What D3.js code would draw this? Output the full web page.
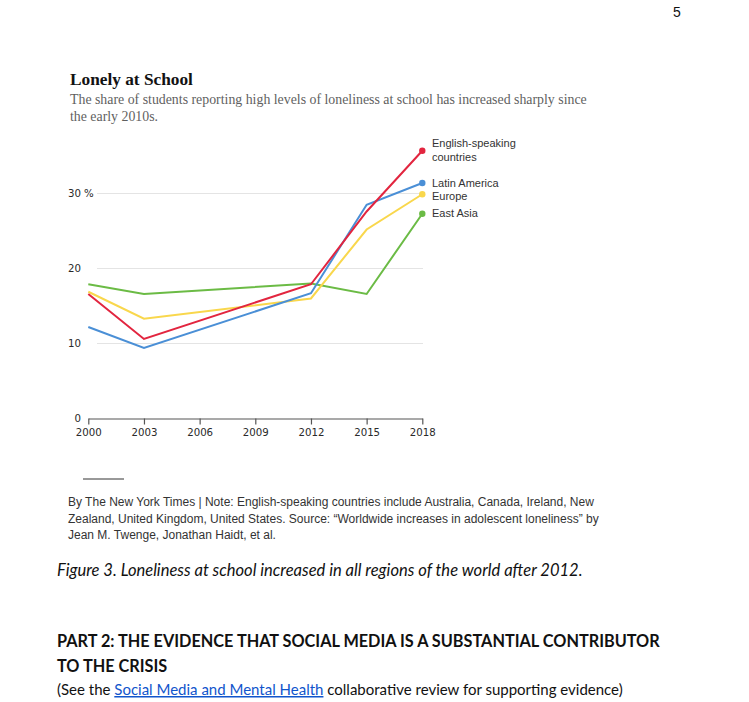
<!DOCTYPE html>
<html>
<head>
<meta charset="utf-8">
<script src="https://cdn.jsdelivr.net/npm/d3@7/dist/d3.min.js"></script>
<style>
  html, body { margin: 0; padding: 0; background: #fff; }
  svg { display: block; }
</style>
</head>
<body>
<svg id="chart" width="749" height="702"></svg>
<script>
// ---------------- DATA ----------------
const years = [2000, 2003, 2012, 2015, 2018];
const seriesNames = ["East Asia", "Europe", "Latin America", "English-speaking countries"];
const eastAsia = [17.9, 16.6, 18.0, 16.6, 27.3];
const europe = [16.9, 13.3, 16.0, 25.2, 29.9];
const latinAmerica = [12.2, 9.4, 16.7, 28.5, 31.4];
const englishSpeaking = [16.6, 10.6, 17.9, 27.6, 35.7];
const xTickValues = [2000, 2003, 2006, 2009, 2012, 2015, 2018];
const yTickValues = [0, 10, 20, 30];

const title = "Lonely at School";
const subtitleLines = [
  "The share of students reporting high levels of loneliness at school has increased sharply since",
  "the early 2010s."
];
const footerLines = [
  "By The New York Times | Note: English-speaking countries include Australia, Canada, Ireland, New",
  "Zealand, United Kingdom, United States. Source: \u201cWorldwide increases in adolescent loneliness\u201d by",
  "Jean M. Twenge, Jonathan Haidt, et al."
];
const captionText = "Figure 3. Loneliness at school increased in all regions of the world after 2012.";
const headingLines = [
  "PART 2: THE EVIDENCE THAT SOCIAL MEDIA IS A SUBSTANTIAL CONTRIBUTOR",
  "TO THE CRISIS"
];
const seeBefore = "(See the ";
const seeLink = "Social Media and Mental Health";
const seeAfter = " collaborative review for supporting evidence)";
const pageNumber = "5";

// ---------------- STYLE / LAYOUT ----------------
const colors = {
  "East Asia": "#6bbb45",
  "Europe": "#f9d74c",
  "Latin America": "#4a8fd6",
  "English-speaking countries": "#e2253f"
};
const labelLines = {
  "East Asia": ["East Asia"],
  "Europe": ["Europe"],
  "Latin America": ["Latin America"],
  "English-speaking countries": ["English-speaking", "countries"]
};
const labelShift = {
  "East Asia": 0,
  "Europe": 2.5,
  "Latin America": 0,
  "English-speaking countries": -7
};

const valuesByName = {
  "East Asia": eastAsia,
  "Europe": europe,
  "Latin America": latinAmerica,
  "English-speaking countries": englishSpeaking
};

const svg = d3.select("#chart");

const x = d3.scaleLinear().domain([2000, 2018]).range([88.3, 422.3]);
const y = d3.scaleLinear().domain([0, 30]).range([418.5, 193.5]);

const tickFont = "'DejaVu Sans', Verdana, sans-serif";

// helper: fit text to a target width by adjusting font-size
function fit(sel, target) {
  const node = sel.node();
  const w = node.getComputedTextLength();
  const fs = parseFloat(sel.attr("font-size"));
  if (w > 0) sel.attr("font-size", (fs * target / w).toFixed(2));
  return sel;
}

// page number
svg.append("text").attr("x", 673).attr("y", 17)
  .attr("font-family", "Liberation Sans, Arial, sans-serif")
  .attr("font-size", 14).attr("fill", "#111").text(pageNumber);

// title
fit(svg.append("text").attr("x", 70).attr("y", 85)
  .attr("font-family", "Liberation Serif, 'DejaVu Serif', serif")
  .attr("font-weight", "bold").attr("font-size", 18).attr("fill", "#121212")
  .text(title), 123);

// subtitle
let subSize = null;
subtitleLines.forEach((t, i) => {
  const s = svg.append("text").attr("x", 70).attr("y", 104 + i * 16.5)
    .attr("font-family", "Liberation Serif, 'DejaVu Serif', serif")
    .attr("font-size", 12.5).attr("fill", "#5f5f5f").text(t);
  if (i === 0) { fit(s, 517); subSize = s.attr("font-size"); }
  else s.attr("font-size", subSize);
});

// gridlines
const grid = svg.append("g");
grid.selectAll("line").data(yTickValues.filter(d => d > 0)).join("line")
  .attr("x1", 97).attr("x2", 423)
  .attr("y1", d => y(d)).attr("y2", d => y(d))
  .attr("stroke", "#e4e4e4").attr("stroke-width", 1);

// y labels
const yLab = svg.append("g")
  .attr("font-family", tickFont)
  .attr("font-size", 10.2).attr("fill", "#2a2a2a");
yLab.selectAll("text").data(yTickValues).join("text")
  .attr("x", 81).attr("y", d => y(d) + 3.8)
  .attr("text-anchor", "end").text(d => d3.format("d")(d));
yLab.append("text").attr("x", 84).attr("y", y(d3.max(yTickValues)) + 3.8).text("%");

// x axis
const xAxis = d3.axisBottom(x).tickValues(xTickValues).tickFormat(d3.format("d"))
  .tickSize(6).tickSizeOuter(0).tickPadding(4);
const gx = svg.append("g").attr("transform", `translate(0,${y(0)})`).call(xAxis)
  .attr("font-family", tickFont).attr("font-size", 10.2);
gx.select(".domain").attr("stroke", "#555").attr("stroke-width", 1.2);
gx.selectAll(".tick line").attr("stroke", "#555").attr("stroke-width", 1.2);
gx.selectAll(".tick text").attr("font-family", tickFont)
  .attr("font-size", 10.2).attr("fill", "#2a2a2a");

// lines
const line = d3.line().x((d, i) => x(years[i])).y(d => y(d));
const series = seriesNames.map(n => ({ name: n, values: valuesByName[n] }));
svg.append("g").selectAll("path").data(series).join("path")
  .attr("d", d => line(d.values))
  .attr("fill", "none")
  .attr("stroke", d => colors[d.name])
  .attr("stroke-width", 2)
  .attr("stroke-linejoin", "miter");

// end dots
svg.append("g").selectAll("circle").data(series).join("circle")
  .attr("cx", x(years[years.length - 1]))
  .attr("cy", d => y(d.values[d.values.length - 1]))
  .attr("r", 3.2)
  .attr("fill", d => colors[d.name]);

// labels
const lab = svg.append("g").attr("font-family", "'Liberation Sans', Arial, sans-serif")
  .attr("font-size", 11).attr("fill", "#333");
series.forEach(s => {
  const yy = y(s.values[s.values.length - 1]) + 3.5 + labelShift[s.name];
  const t = lab.append("text").attr("x", 432).attr("y", yy);
  labelLines[s.name].forEach((l, i) => {
    t.append("tspan").attr("x", 432).attr("dy", i === 0 ? 0 : 13.5).text(l);
  });
});

// footer rule
svg.append("line").attr("x1", 83).attr("x2", 124).attr("y1", 479).attr("y2", 479)
  .attr("stroke", "#333").attr("stroke-width", 1);

// footer text
let footSize = null;
footerLines.forEach((t, i) => {
  const s = svg.append("text").attr("x", 68).attr("y", 506 + i * 16.5)
    .attr("font-family", "'Liberation Sans', Arial, sans-serif")
    .attr("font-size", 11.5).attr("fill", "#333").text(t);
  if (i === 0) { fit(s, 526); footSize = s.attr("font-size"); }
  else s.attr("font-size", footSize);
});

// caption
fit(svg.append("text").attr("x", 57).attr("y", 576)
  .attr("font-family", "Lato, 'Open Sans', sans-serif")
  .attr("font-style", "italic").attr("font-size", 15).attr("fill", "#111")
  .text(captionText), 526);

// heading
let headSize = null;
headingLines.forEach((t, i) => {
  const s = svg.append("text").attr("x", 57).attr("y", 647 + i * 24.5)
    .attr("font-family", "Lato, 'Open Sans', sans-serif")
    .attr("font-weight", "bold").attr("font-size", 16).attr("fill", "#111").text(t);
  if (i === 0) { fit(s, 603); headSize = s.attr("font-size"); }
  else s.attr("font-size", headSize);
});

// see line
const see = svg.append("text").attr("x", 57).attr("y", 695)
  .attr("font-family", "Lato, 'Open Sans', sans-serif")
  .attr("font-size", 14).attr("fill", "#111");
see.append("tspan").text(seeBefore);
see.append("tspan").attr("fill", "#1155cc").attr("text-decoration", "underline").text(seeLink);
see.append("tspan").text(seeAfter);
fit(see, 566);
</script>
</body>
</html>
